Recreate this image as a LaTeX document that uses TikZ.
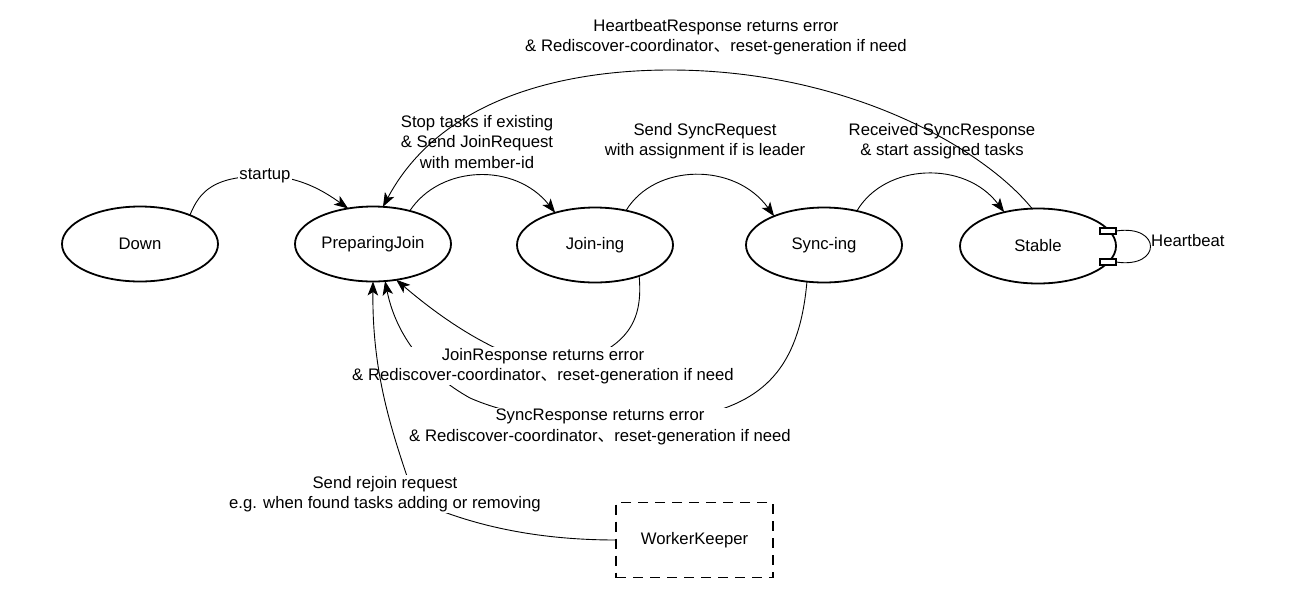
\documentclass[tikz,border=0pt]{standalone}
\usepackage{fontspec}
\setmainfont{Liberation Sans}
\newfontfamily\cjkfont{Noto Sans CJK SC}
\newcommand{\idcomma}{{\cjkfont 、}}
\usetikzlibrary{shapes.geometric,arrows.meta}
\begin{document}
\begin{tikzpicture}[x=1pt,y=-1pt,
  txt/.style={font=\fontsize{16.7}{20.5}\selectfont},
  state/.style={ellipse,draw,line width=1.8pt,minimum width=156pt,minimum height=75pt,inner sep=0pt,outer sep=0pt,txt},
  lbl/.style={align=center,txt,inner sep=1pt},
  wlbl/.style={lbl,fill=white},
  edge/.style={line width=0.9pt,-{Stealth[length=14pt,width=10.5pt,inset=3.5pt]}},
  plainedge/.style={line width=0.9pt},
  port/.style={draw,line width=1.3pt,fill=white,minimum width=16pt,minimum height=6pt,inner sep=0pt,outer sep=0pt},
  keeper/.style={draw,line width=1.8pt,dash pattern=on 10pt off 7pt,minimum width=157pt,minimum height=75pt,inner sep=0pt,outer sep=0pt,txt}
]
\useasboundingbox (0,0) rectangle (1290,603);

% states
\node[state] (down) at (140,244) {Down};
\node[state] (pj) at (373,244) {PreparingJoin};
\node[state] (join) at (595,245) {Join-ing};
\node[state] (sync) at (824,245) {Sync-ing};
\node[state] (stable) at (1038,246) {Stable};
\node[keeper] (wk) at (694.5,540) {WorkerKeeper};
\node[port] (p1) at (1108,231) {};
\node[port] (p2) at (1108,262) {};

% forward edges
\draw[edge] (down.30) .. controls (200,190) and (215,176) .. (265,176) .. controls (300,176) and (325,192) .. (pj.125);
\node[wlbl] (lstart) at (265,176) {startup};

\draw[edge] (pj.42) .. controls (440,165) and (515,162) .. (join.141);
\node[lbl] (ljoinreq) at (477,142) {Stop tasks if existing\\\& Send JoinRequest\\with member-id};

\draw[edge] (join.48) .. controls (655,163) and (735,162) .. (sync.150);
\node[lbl] (lsyncreq) at (705,141) {Send SyncRequest\\with assignment if is leader};

\draw[edge] (sync.46) .. controls (885,163) and (965,160) .. (stable.135);
\node[lbl] (lsyncresp) at (942,141) {Received SyncResponse\\\& start assigned tasks};

% heartbeat error
\draw[edge] (stable.99) .. controls (985,150) and (850,70) .. (670,70) .. controls (560,70) and (440,100) .. (pj.75);
\node[lbl] (lhberr) at (716,37) {HeartbeatResponse returns error\\\& Rediscover-coordinator\idcomma reset-generation if need};

% heartbeat self loop
\draw[plainedge] (p1.east) .. controls (1162,224) and (1162,269) .. (p2.east);
\node[lbl,anchor=west] (lhb) at (1150,241) {Heartbeat};

% error edges
\draw[edge] (sync.-115) .. controls (800,360) and (770,400) .. (700,415) .. controls (600,430) and (520,420) .. (470,398) .. controls (420,370) and (395,330) .. (pj.-72);
\node[wlbl] (lsyncerr) at (600,427) {SyncResponse returns error\\\& Rediscover-coordinator\idcomma reset-generation if need};

\draw[edge] (join.-35) .. controls (643,320) and (630,350) .. (560,368) .. controls (510,362) and (455,330) .. (pj.-57);
\node[wlbl] (ljoinerr) at (543,366) {JoinResponse returns error\\\& Rediscover-coordinator\idcomma reset-generation if need};

% rejoin
\draw[edge] (wk.west) .. controls (550,540) and (480,530) .. (415,500) .. controls (395,440) and (372,380) .. (pj.-90);
\node[wlbl] (lrejoin) at (385,494) {Send rejoin request\\e.g. when found tasks adding or removing};
\end{tikzpicture}
\end{document}
